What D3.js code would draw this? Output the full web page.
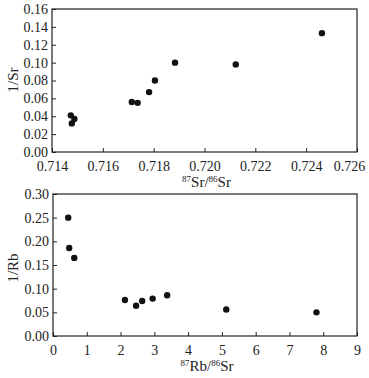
<!DOCTYPE html>
<html><head><meta charset="utf-8">
<script src="https://cdn.jsdelivr.net/npm/d3@7"></script>
<style>
body{margin:0;background:#fff;}
svg{display:block;}
text{font-family:"Liberation Serif","Times New Roman",serif;fill:#222;}
</style></head><body>
<svg id="c" width="369" height="378"></svg>
<script>
// Top panel: 87Sr/86Sr vs 1/Sr
const srX = [0.71474, 0.71478, 0.71488, 0.71714, 0.71737, 0.71782, 0.71805, 0.71884, 0.72123, 0.72462];
const srY = [0.041, 0.032, 0.037, 0.056, 0.055, 0.067, 0.080, 0.100, 0.098, 0.133];
const srXTicks = [0.714, 0.716, 0.718, 0.720, 0.722, 0.724, 0.726];
const srYTicks = [0.00, 0.02, 0.04, 0.06, 0.08, 0.10, 0.12, 0.14, 0.16];

// Bottom panel: 87Rb/86Sr vs 1/Rb
const rbX = [0.45, 0.48, 0.63, 2.13, 2.46, 2.64, 2.95, 3.38, 5.13, 7.80];
const rbY = [0.250, 0.186, 0.165, 0.076, 0.064, 0.074, 0.079, 0.086, 0.056, 0.050];
const rbXTicks = [0, 1, 2, 3, 4, 5, 6, 7, 8, 9];
const rbYTicks = [0.00, 0.05, 0.10, 0.15, 0.20, 0.25, 0.30];

const svg = d3.select("#c");

function panel(o){
  const g = svg.append("g");
  const x = d3.scaleLinear().domain(o.xd).range([o.l, o.r]);
  const y = d3.scaleLinear().domain(o.yd).range([o.b, o.t]);
  // frame
  g.append("rect").attr("x", o.l).attr("y", o.t).attr("width", o.r - o.l).attr("height", o.b - o.t)
    .attr("fill", "none").attr("stroke", "#222").attr("stroke-width", 1.2);
  // x axis (inward ticks)
  const xa = g.append("g").attr("transform", `translate(0,${o.b})`)
    .call(d3.axisBottom(x).tickValues(o.xt).tickSizeInner(-4).tickSizeOuter(0).tickPadding(9).tickFormat(o.xf));
  xa.select(".domain").remove();
  xa.selectAll("line").attr("stroke", "#222");
  xa.selectAll("text").attr("font-size", 14).attr("fill", "#222").style("font-family", "Liberation Serif");
  if (o.lastShift) {
    xa.selectAll(".tick").filter((d, i, n) => i === n.length - 1).select("text").attr("dx", o.lastShift);
  }
  // y axis
  const ya = g.append("g").attr("transform", `translate(${o.l},0)`)
    .call(d3.axisLeft(y).tickValues(o.yt).tickSizeInner(-4).tickSizeOuter(0).tickPadding(4).tickFormat(d3.format(".2f")));
  ya.select(".domain").remove();
  ya.selectAll("line").attr("stroke", "#222");
  ya.selectAll("text").attr("font-size", 14).attr("fill", "#222").style("font-family", "Liberation Serif");
  // points
  g.selectAll("circle").data(o.xs).join("circle")
    .attr("cx", (d) => x(d)).attr("cy", (d, i) => y(o.ys[i])).attr("r", 3.2).attr("fill", "#111");
  // y label
  g.append("text").attr("transform", `translate(${o.ylx},${o.yly}) rotate(-90)`)
    .attr("text-anchor", "middle").attr("font-size", 15).text(o.ylab);
  // x label with superscripts
  const xl = g.append("text").attr("x", (o.l + o.r) / 2 + 2).attr("y", o.xly).attr("text-anchor", "middle").attr("font-size", 15);
  xl.append("tspan").attr("font-size", 9).attr("dy", -5).text(o.s1);
  xl.append("tspan").attr("dy", 5).text(o.e1 + "/");
  xl.append("tspan").attr("font-size", 9).attr("dy", -5).text("86");
  xl.append("tspan").attr("dy", 5).text("Sr");
}

panel({l:52, r:357, t:9, b:152, xd:[0.714,0.726], yd:[0,0.16], xt:srXTicks, yt:srYTicks,
  xf:d3.format(".3f"), xs:srX, ys:srY, ylab:"1/Sr", ylx:18, yly:80, xly:187, s1:"87", e1:"Sr", lastShift:-8});
panel({l:53, r:357, t:194, b:336, xd:[0,9], yd:[0,0.30], xt:rbXTicks, yt:rbYTicks,
  xf:d3.format("d"), xs:rbX, ys:rbY, ylab:"1/Rb", ylx:18, yly:268, xly:371, s1:"87", e1:"Rb"});
</script>
</body></html>
